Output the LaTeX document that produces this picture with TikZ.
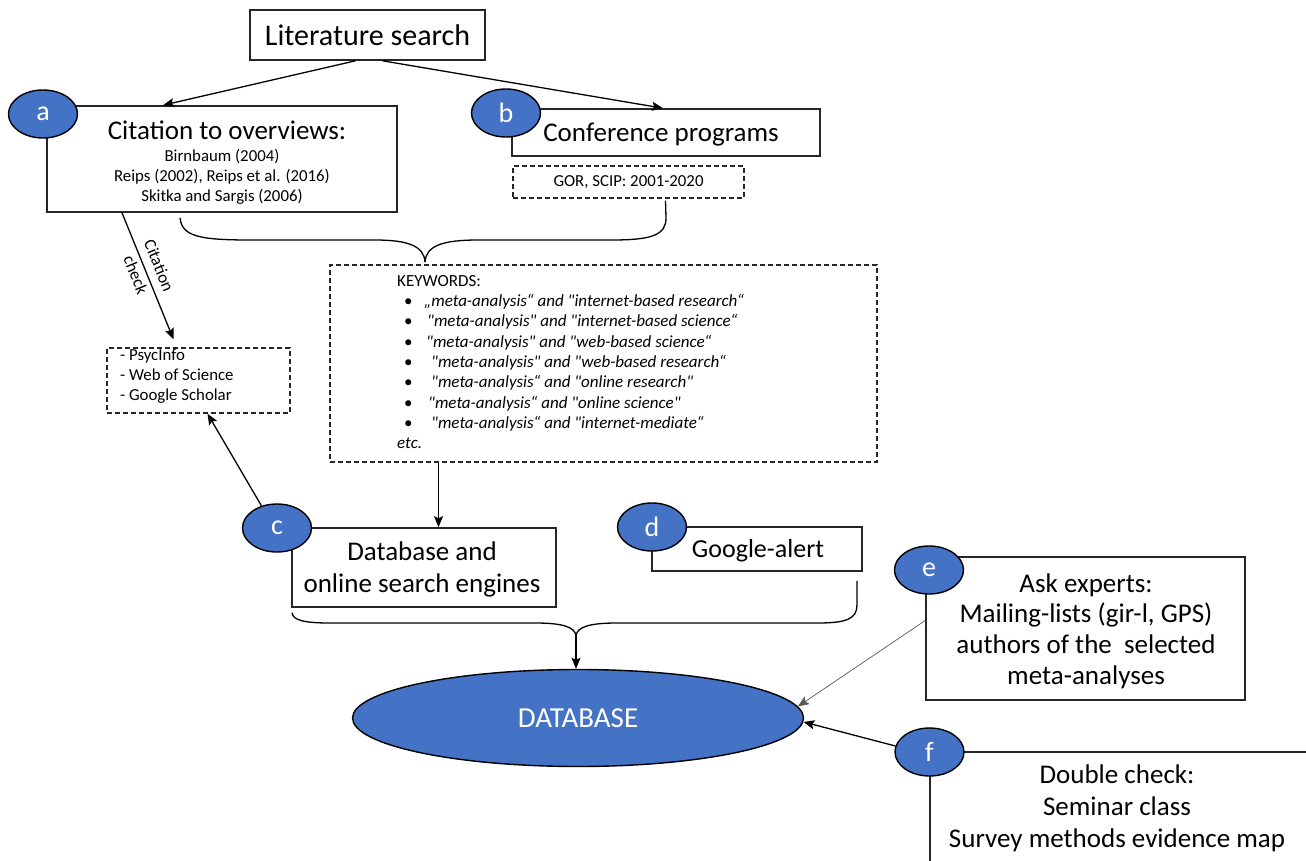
\documentclass[tikz,border=0pt]{standalone}
\usepackage{fontspec}
\setmainfont{Carlito}[Ligatures=TeXOff]
\usetikzlibrary{arrows.meta,shapes.geometric}
\definecolor{blu}{HTML}{4472C4}
\newcommand\fsz[2]{\fontsize{#1}{#2}\selectfont}
\begin{document}
\begin{tikzpicture}[x=1pt,y=-1pt,
  box/.style={draw=black!85,line width=1.6pt,inner sep=0pt,fill=white},
  dbox/.style={draw=black!85,line width=1.3pt,dash pattern=on 5pt off 3pt,inner sep=0pt},
  circ/.style={ellipse,draw=black,line width=1.4pt,fill=blu,text=white,minimum width=69,minimum height=48,inner sep=0pt,font=\fsz{28}{30}},
  arr/.style={-{Stealth[length=11pt,width=9pt,inset=2pt]},line width=1.3pt,black},
  arrthin/.style={-{Stealth[length=11pt,width=9pt,inset=2pt]},line width=0.7pt,black!65},
  brc/.style={line width=1.3pt,black},
  big/.style={font=\fsz{27}{32}},
  sml/.style={font=\fsz{16.8}{20}}]
\useasboundingbox (0,0) rectangle (1306,861);
\clip (0,0) rectangle (1306,861);
\fill[white] (0,0) rectangle (1306,861);

% boxes
\node[box,minimum width=235,minimum height=50,font=\fsz{30}{36}] (lit) at (367.5,35) {Literature search};
\node[box,minimum width=350,minimum height=106] (boxa) at (222,159) {};
\node[big] (ta) at (227,130) {Citation to overviews:};
\node[sml,align=center] (tas) at (222,177) {Birnbaum (2004)\\Reips (2002), Reips et al. (2016)\\Skitka and Sargis (2006)};
\node[box,minimum width=308,minimum height=47] (boxb) at (666,132.5) {};
\node[big] (tb) at (661,135) {Conference programs};
\node[dbox,minimum width=231,minimum height=32,font=\fsz{16.8}{20}] (gor) at (628.5,182) {GOR, SCIP: 2001-2020};
\node[dbox,minimum width=547,minimum height=197] (kw) at (603.5,363.5) {};
\node[anchor=north west,align=left,inner sep=0pt,font=\fsz{17}{20.3}] (kwt) at (397,275) {KEYWORDS:\\
\hspace*{7pt}\makebox[20pt][l]{•}\textit{„meta-analysis“ and "internet-based research“}\\
\hspace*{7pt}\makebox[20pt][l]{•}\hspace*{3pt}\textit{"meta-analysis" and "internet-based science“}\\
\hspace*{7pt}\makebox[20pt][l]{•}\hspace*{2pt}\textit{"meta-analysis" and "web-based science“}\\
\hspace*{7pt}\makebox[20pt][l]{•}\hspace*{7pt}\textit{"meta-analysis" and "web-based research“}\\
\hspace*{7pt}\makebox[20pt][l]{•}\hspace*{7pt}\textit{"meta-analysis“ and "online research"}\\
\hspace*{7pt}\makebox[20pt][l]{•}\hspace*{4pt}\textit{"meta-analysis“ and "online science"}\\
\hspace*{7pt}\makebox[20pt][l]{•}\hspace*{7pt}\textit{"meta-analysis“ and "internet-mediate“}\\
\textit{etc.}};
\node[dbox,minimum width=183,minimum height=65] (psy) at (198.5,380.5) {};
\node[anchor=north west,align=left,inner sep=0pt,font=\fsz{16.8}{20}] (psyt) at (120,349) {- PsycInfo\\- Web of Science\\- Google Scholar};
\node[box,minimum width=264,minimum height=79] (boxc) at (424,567.5) {};
\node[big,align=center] (tc) at (422,569) {Database and\\online search engines};
\node[box,minimum width=210,minimum height=44] (boxd) at (757,549) {};
\node[font=\fsz{26}{30}] (td) at (758,551) {Google-alert};
\node[box,minimum width=319,minimum height=143] (boxe) at (1085.5,628.5) {};
\node[align=center,font=\fsz{27}{30.7}] (te) at (1086,631) {Ask experts:\\Mailing-lists (gir-l, GPS)\\authors of the\ \ selected\\meta-analyses};
\node[box,minimum width=400,minimum height=148] (boxf) at (1130,826) {};
\node[align=center,font=\fsz{27}{32}] (tf) at (1117,808) {Double check:\\Seminar class\\Survey methods evidence map};
\node[ellipse,draw=black,line width=1.4pt,fill=blu,text=white,minimum width=451,minimum height=97,inner sep=0pt,font=\fsz{29}{32}] (db) at (578,718) {DATABASE};

% letter circles
\node[circ] (ca) at (43,114) {a};
\node[circ] (cb) at (506,113) {b};
\node[circ] (cc) at (277,528) {c};
\node[circ] (cd) at (652,527) {d};
\node[circ] (ce) at (929,570) {e};
\node[circ] (cf) at (929.5,752) {f};

% arrows
\draw[arr] ([xshift=-12pt]lit.south) -- ([xshift=-59pt]boxa.north);
\draw[arr] ([xshift=15pt]lit.south) -- ([xshift=-3pt]boxb.north);
\draw[arr] ([xshift=-100pt]boxa.south) --
  node[sloped,pos=0.46,above=8pt,inner sep=0pt,font=\fsz{17}{19}] (cit1) {Citation}
  node[sloped,pos=0.46,below=4pt,inner sep=0pt,font=\fsz{17}{19}] (cit2) {check}
  ([xshift=-25pt,yshift=8pt]psy.north);
\draw[arr] (cc.125) -- ([xshift=9pt]psy.south);
\draw[arr] ([xshift=-165pt]kw.south) -- ([xshift=-165pt]kw.south |- boxc.north);

% top brace
\coordinate (ap1) at (425,262);
\draw[brc] ([xshift=-42pt,yshift=-5pt]boxa.south) .. controls (182,236) and (198,240) .. (250,240) -- (375,240) .. controls (408,240) and (424,246) .. (ap1);
\draw[brc] ([xshift=37pt,yshift=-2pt]gor.south) -- (666,218) .. controls (666,235) and (652,240) .. (612,240) -- (478,240) .. controls (442,240) and (426,246) .. (ap1);

% bottom brace
\coordinate (ap2) at (576,636);
\draw[brc] ([xshift=-132pt,yshift=-5pt]boxc.south) .. controls (293,620) and (303,623) .. (330,623) -- (535,623) .. controls (563,623) and (575,627) .. (ap2);
\draw[brc] ([xshift=100pt,yshift=-9pt]boxd.south) -- (857,605) .. controls (857,619) and (846,623) .. (818,623) -- (617,623) .. controls (589,623) and (577,627) .. (ap2);
\draw[arr] (ap2) -- (ap2 |- db.north);

\draw[arrthin] ([yshift=8pt]boxe.west) -- (db.3);
\draw[arr] (cf.170) -- (db.-1);
\end{tikzpicture}
\end{document}
